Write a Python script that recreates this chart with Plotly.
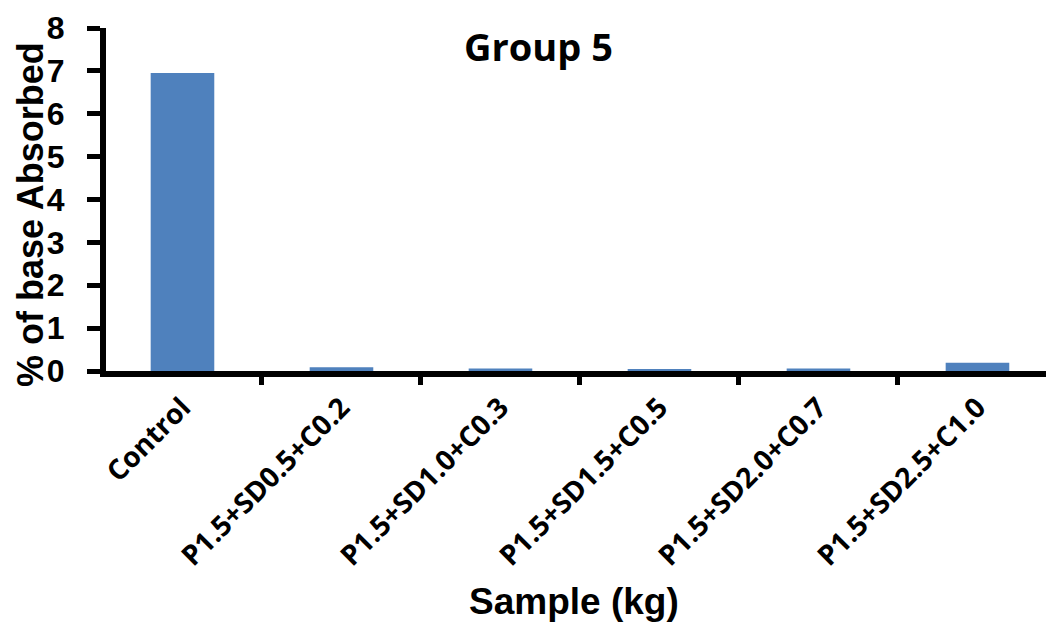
import plotly.graph_objects as go

categories = ["Control", "P1.5+SD0.5+C0.2", "P1.5+SD1.0+C0.3",
              "P1.5+SD1.5+C0.5", "P1.5+SD2.0+C0.7", "P1.5+SD2.5+C1.0"]
values = [6.95, 0.09, 0.06, 0.04, 0.06, 0.19]
y_ticks = [0, 1, 2, 3, 4, 5, 6, 7, 8]

W, H = 1046, 623
l, r, t, b = 106, 0, 28, 252
pw, ph = W - l - r, H - t - b


def px_x(x):
    return (x - l) / pw


def px_y(y):
    return (H - b - y) / ph


fig = go.Figure()
fig.add_trace(go.Bar(
    x=categories, y=values,
    width=0.4, marker=dict(color="#4F81BD", line=dict(width=0)),
))

fig.update_layout(
    width=W, height=H,
    margin=dict(l=l, r=r, t=t, b=b),
    paper_bgcolor="white", plot_bgcolor="white",
    showlegend=False,
    annotations=[
        dict(text="<b>Group 5</b>", x=px_x(538), y=px_y(46), xref="paper", yref="paper",
             xanchor="center", yanchor="middle", showarrow=False,
             font=dict(family="Open Sans", size=38, color="black")),
        dict(text="<b>Sample (kg)</b>", x=px_x(574), y=px_y(601), xref="paper", yref="paper",
             xanchor="center", yanchor="middle", showarrow=False,
             font=dict(family="Liberation Sans", size=37, color="black")),
        dict(text="<b>% of base Absorbed</b>", x=px_x(30), y=px_y(215), xref="paper", yref="paper",
             xanchor="center", yanchor="middle", textangle=-90, showarrow=False,
             font=dict(family="Liberation Sans", size=36, color="black")),
    ],
)

fig.update_xaxes(
    type="category", tickson="boundaries",
    range=[-0.481, 5.431], tickangle=-45,
    showline=True, linecolor="black", linewidth=6,
    ticks="outside", ticklen=8, tickwidth=5, tickcolor="black",
    showgrid=False, zeroline=False,
    tickfont=dict(family="Open Sans", size=28, color="black", weight="bold"),
    ticklabelstandoff=3,
)
fig.update_yaxes(
    range=[0, 8], tickmode="array", tickvals=y_ticks,
    showline=True, linecolor="black", linewidth=6,
    ticks="outside", ticklen=13, tickwidth=5, tickcolor="black",
    showgrid=False, zeroline=False,
    tickfont=dict(family="Liberation Sans", size=32, color="black", weight="bold"),
    ticklabelstandoff=16,
)

fig.write_html("out.html")
